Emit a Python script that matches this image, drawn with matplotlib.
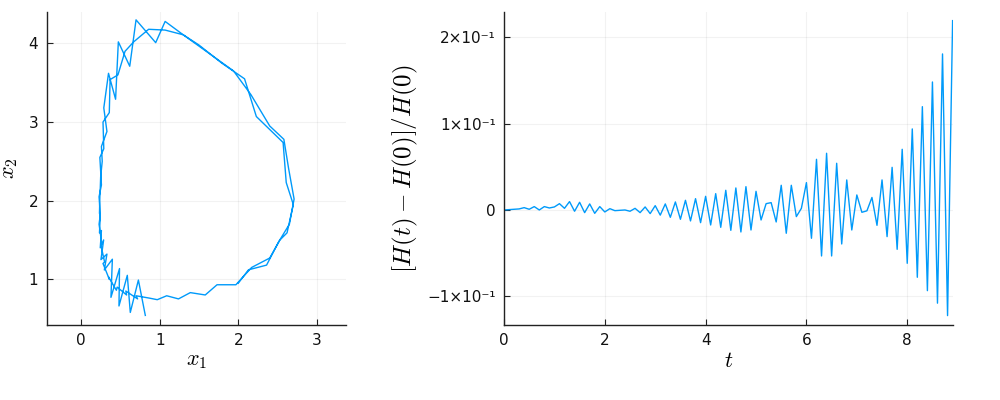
import matplotlib
matplotlib.use("Agg")
import matplotlib.pyplot as plt
from matplotlib.ticker import FixedLocator, FuncFormatter

plt.rcParams['mathtext.fontset'] = 'cm'
plt.rcParams['font.family'] = ['DejaVu Sans']

# ---- phase-space trajectory (x1, x2) ----
x1 = [2.00, 2.13, 2.36, 2.51, 2.65, 2.71, 2.64, 2.58, 2.40, 2.16,
      1.94, 1.62, 1.30, 1.07, 0.86, 0.67, 0.56, 0.47, 0.37, 0.36,
      0.28, 0.29, 0.24, 0.26, 0.23, 0.245, 0.23, 0.26, 0.25, 0.30,
      0.28, 0.36, 0.35, 0.45, 0.46, 0.58, 0.57, 0.72, 0.70, 0.87,
      0.97, 1.09, 1.24, 1.39, 1.58, 1.73, 1.97,
      2.17, 2.40, 2.53, 2.62, 2.70, 2.61, 2.57, 2.23, 2.08, 1.79,
      1.50, 1.30, 1.07, 0.95, 0.70, 0.62, 0.475, 0.44, 0.35, 0.29,
      0.33, 0.26, 0.27, 0.25, 0.245, 0.24, 0.235, 0.245, 0.235, 0.26,
      0.245, 0.288, 0.254, 0.33, 0.297, 0.399, 0.381, 0.49, 0.483, 0.589,
      0.627, 0.73, 0.818]
x2 = [0.95, 1.12, 1.18, 1.47, 1.70, 2.02, 2.41, 2.78, 2.95, 3.35,
      3.65, 3.88, 4.11, 4.17, 4.18, 4.02, 3.90, 3.60, 3.54, 3.12,
      3.00, 2.66, 2.55, 2.20, 2.05, 1.82, 1.70, 1.48, 1.45, 1.22,
      1.20, 1.00, 1.03, 0.86, 0.90, 0.80, 0.85, 0.75, 0.79, 0.76,
      0.74, 0.79, 0.75, 0.83, 0.80, 0.93, 0.93,
      1.15, 1.27, 1.50, 1.59, 1.95, 2.23, 2.74, 3.07, 3.55, 3.75,
      3.98, 4.11, 4.28, 4.01, 4.30, 3.71, 4.02, 3.29, 3.62, 3.18,
      2.88, 2.69, 2.50, 2.30, 2.15, 2.05, 1.84, 1.80, 1.59, 1.62,
      1.40, 1.50, 1.25, 1.32, 1.118, 1.255, 0.77, 1.136, 0.66, 1.05,
      0.578, 0.99, 0.54]

# ---- relative energy error ----
t = [round(0.1 * k, 1) for k in range(90)]
relH = [0.0, 0.0004, 0.0008, 0.0012, 0.0027, 0.0008, 0.0039, 0.0, 0.0039, 0.0023,
        0.0035, 0.0073, 0.0019, 0.0097, -0.0015, 0.0089, -0.0031, 0.0070, -0.0039, 0.0039,
        -0.0023, 0.0015, -0.0008, -0.0004, 0.0, -0.0015, 0.0019, -0.0031, 0.0035, -0.0042,
        0.0050, -0.0060, 0.0070, -0.0085, 0.0093, -0.0108, 0.0112, -0.0127, 0.0131, -0.0147,
        0.0158, -0.0174, 0.0189, -0.0201, 0.0228, -0.0236, 0.0255, -0.0255, 0.0270, -0.0232,
        0.0216, -0.0116, 0.0073, 0.0085, -0.0139, 0.0286, -0.0270, 0.0286, -0.0077, 0.0019,
        0.0317, -0.0328, 0.0587, -0.0533, 0.0657, -0.0533, 0.0541, -0.0394, 0.0348, -0.0232,
        0.0174, -0.0027, -0.0010, 0.0145, -0.0178, 0.0348, -0.0309, 0.0494, -0.0456, 0.0703,
        -0.0618, 0.0939, -0.0780, 0.1197, -0.0935, 0.1483, -0.1080, 0.1808, -0.1224, 0.2194]

left_xticks = [0, 1, 2, 3]
left_yticks = [1, 2, 3, 4]
right_xticks = [0, 2, 4, 6, 8]
right_yticks = [-0.1, 0.0, 0.1, 0.2]

color = '#009AFA'

fig = plt.figure(figsize=(10, 4), dpi=100)
ax1 = fig.add_axes([0.0467, 0.1875, 0.2993, 0.7825])
ax2 = fig.add_axes([0.504, 0.1875, 0.4486, 0.7825])


def style(ax):
    ax.spines['top'].set_visible(False)
    ax.spines['right'].set_visible(False)
    for s in ('left', 'bottom'):
        ax.spines[s].set_linewidth(1.0)
        ax.spines[s].set_color('#222222')
    ax.grid(True, color='#000000', alpha=0.05, linewidth=0.8)
    ax.set_axisbelow(True)
    ax.tick_params(direction='in', length=4, width=0.8, color='#222222',
                   labelsize=11, labelcolor='#111111', pad=6)


ax1.plot(x1, x2, color=color, linewidth=1.0)
ax1.set_xlim(-0.436, 3.37)
ax1.set_ylim(0.418, 4.40)
ax1.xaxis.set_major_locator(FixedLocator(left_xticks))
ax1.yaxis.set_major_locator(FixedLocator(left_yticks))
style(ax1)
ax1.set_xlabel(r'$x_1$', fontsize=16, labelpad=2)
ax1.set_ylabel(r'$x_2$', fontsize=16, labelpad=6)

ax2.plot(t, relH, color=color, linewidth=1.0)
ax2.set_xlim(0, 8.9)
ax2.set_ylim(-0.1333, 0.2294)
ax2.xaxis.set_major_locator(FixedLocator(right_xticks))
ax2.yaxis.set_major_locator(FixedLocator(right_yticks))

sup = str.maketrans('-0123456789', '⁻⁰¹²³⁴⁵⁶⁷⁸⁹')


def sci(v, pos):
    if abs(v) < 1e-12:
        return '0'
    m = round(v / 0.1)
    return ('−' if m < 0 else '') + f'{abs(m)}×10' + '-1'.translate(sup)


ax2.yaxis.set_major_formatter(FuncFormatter(sci))
style(ax2)
ax2.set_xlabel(r'$t$', fontsize=16, labelpad=2)
ax2.set_ylabel(r'$[H(t) - H(0)]/H(0)$', fontsize=18, labelpad=5)

fig.savefig('out.png', dpi=100)
